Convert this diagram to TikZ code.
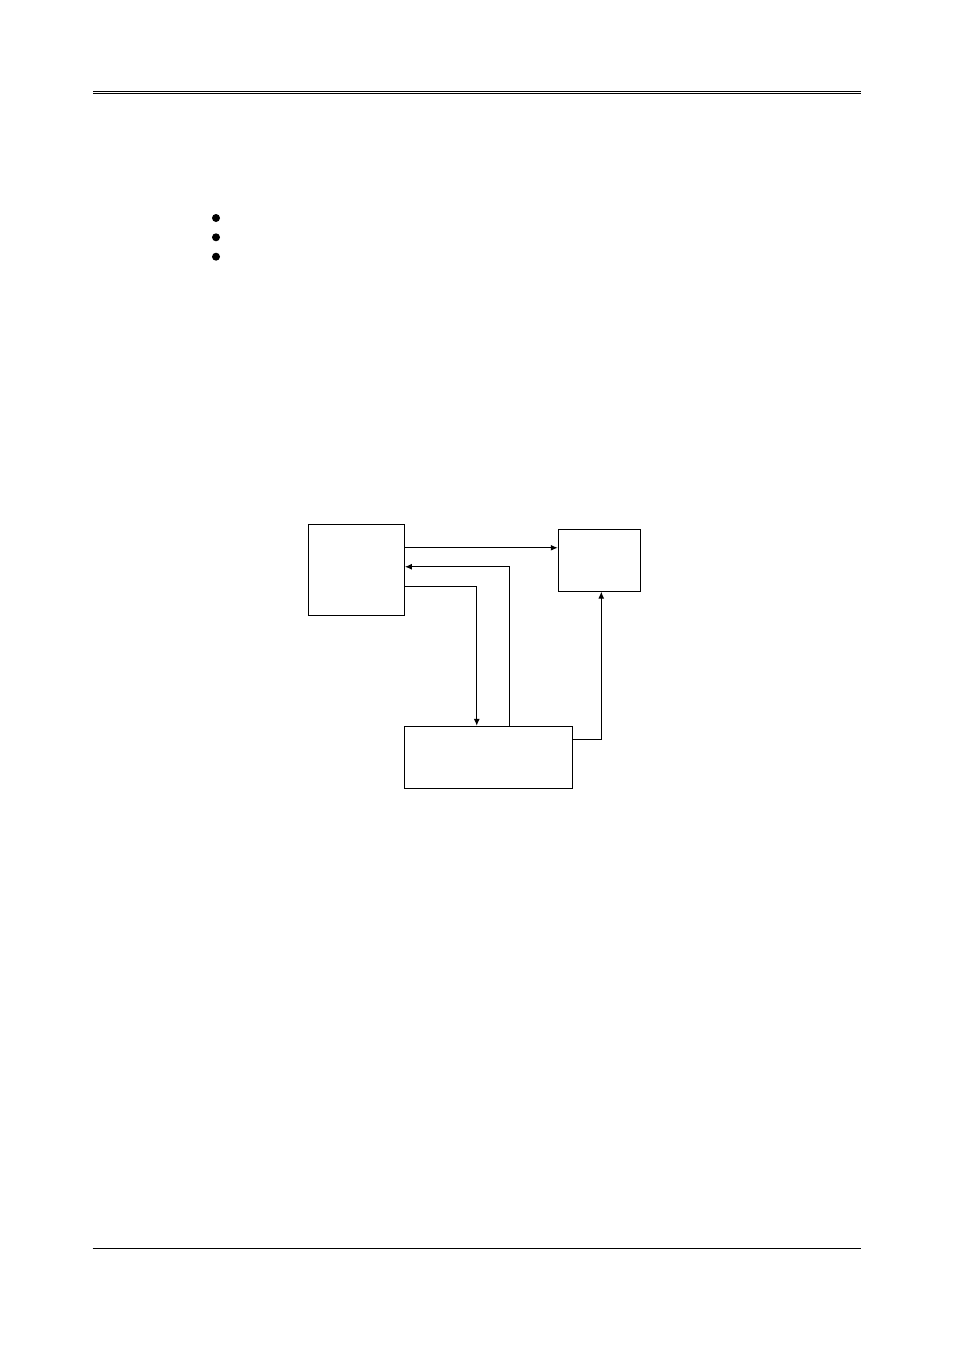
\documentclass[tikz,border=0pt]{standalone}
\usetikzlibrary{arrows.meta,positioning}

\tikzset{
	block/.style={draw, line width=1.1pt, inner sep=0pt},
	flow/.style={line width=1.1pt, -{Latex[length=7pt,width=6pt]}},
	dot/.style={circle, fill, inner sep=0pt, minimum size=8pt},
	rule/.style={line width=1.1pt}
}

\begin{document}
\begin{tikzpicture}[x=1pt,y=-1pt]
	% Page
	\fill[white] (0,0) rectangle (954,1350);
	\useasboundingbox (0,0) rectangle (954,1350);
	
	% Header and footer rules
	\draw[line width=1.4pt] (93,91.3) -- (860.7,91.3);
	\draw[rule] (93,93.6) -- (860.7,93.6);
	\draw[rule] (92.7,1248.3) -- (860.7,1248.3);
	
	% Bullets
	\foreach \y [count=\i] in {218, 237.3, 256.7} {
		\node[dot] (bullet\i) at (216,\y) {};
	}
	
	% Blocks
	\node[block, minimum width=96pt, minimum height=91pt] (left) at (356.3,569.8) {};
	\node[block, minimum width=82.4pt, minimum height=61.7pt] (right) at (599.5,560.2) {};
	\node[block, minimum width=168.4pt, minimum height=61.7pt] (bottom) at (488.5,757.2) {};
	
	% Connectors
	\draw[flow] ([yshift=-24pt]left.north east) -- ([yshift=-24pt]left.north east -| right.west);
	\draw[flow] ([xshift=105.7pt]bottom.north west) |- ([yshift=-43pt]left.north east);
	\draw[flow] ([yshift=-62.4pt]left.north east) -| ([xshift=73pt]bottom.north west);
	\draw[flow] ([yshift=-13.7pt]bottom.north east) -| ([xshift=1.8pt]right.south);
\end{tikzpicture}
\end{document}
